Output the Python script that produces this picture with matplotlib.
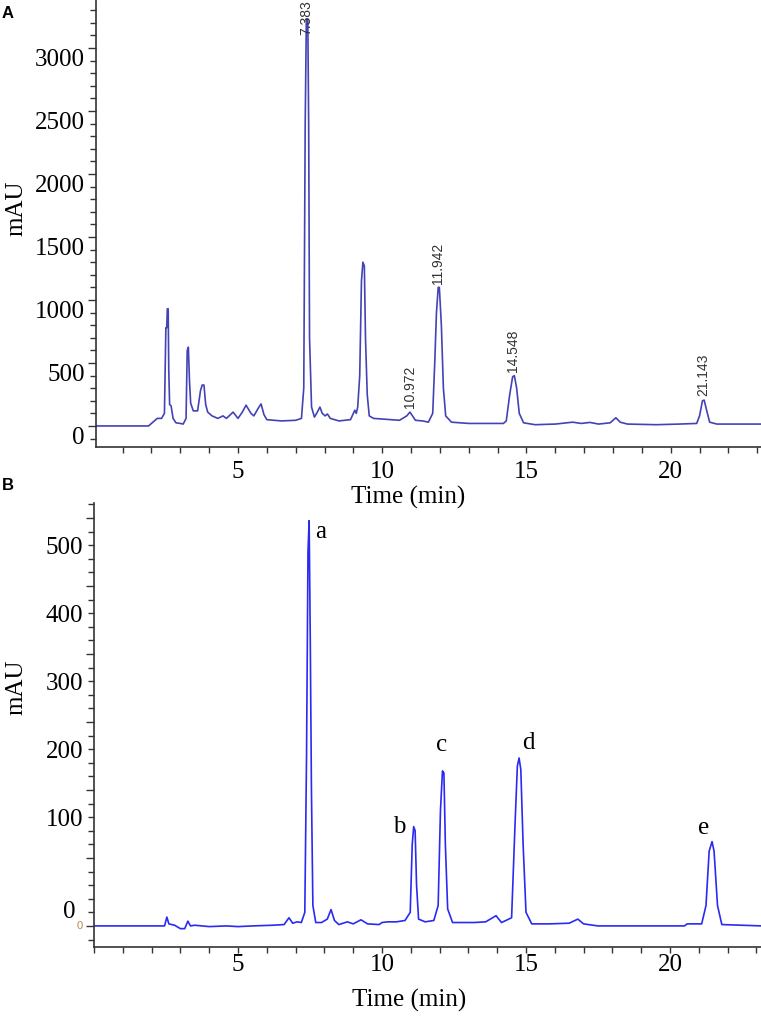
import numpy as np
import matplotlib
matplotlib.use("Agg")
import matplotlib.pyplot as plt
from matplotlib.ticker import MultipleLocator, NullFormatter, FixedLocator
from matplotlib.transforms import ScaledTranslation

# ---------------- data ----------------
# Panel A chromatogram trace: time (min), signal (mAU)
A_time = [0.05, 1.90, 2.05, 2.20, 2.35, 2.45, 2.50, 2.53, 2.55, 2.58, 2.60, 2.63, 2.68, 2.75,
          2.85, 3.00, 3.10, 3.20, 3.24, 3.28, 3.32, 3.36, 3.45, 3.60, 3.70, 3.76, 3.82, 3.88,
          3.95, 4.10, 4.30, 4.48, 4.60, 4.83, 5.00, 5.15, 5.28, 5.45, 5.55, 5.70, 5.80, 5.90,
          6.00, 6.50, 7.00, 7.20, 7.28, 7.33, 7.37, 7.42, 7.45, 7.48, 7.55, 7.65, 7.75, 7.84,
          7.92, 8.02, 8.10, 8.20, 8.50, 8.90, 9.05, 9.10, 9.15, 9.22, 9.28, 9.33, 9.38, 9.42,
          9.48, 9.55, 9.70, 10.00, 10.30, 10.60, 10.85, 10.96, 11.05, 11.15, 11.40, 11.60,
          11.75, 11.82, 11.88, 11.94, 11.98, 12.05, 12.12, 12.20, 12.40, 13.00, 14.20, 14.30,
          14.42, 14.52, 14.58, 14.66, 14.75, 14.90, 15.30, 16.00, 16.60, 16.90, 17.20, 17.50,
          17.90, 18.10, 18.25, 18.50, 19.50, 20.30, 20.90, 21.00, 21.10, 21.16, 21.25, 21.35,
          21.60, 23.20]
A_mau = [0, 0, 30, 60, 60, 100, 780, 780, 930, 930, 450, 170, 160, 60,
         25, 20, 15, 60, 600, 625, 350, 180, 120, 120, 280, 325, 325, 170,
         110, 80, 60, 80, 60, 110, 60, 110, 165, 100, 80, 140, 175, 90,
         50, 40, 45, 60, 300, 2400, 3230, 3230, 2400, 700, 150, 70, 110, 150,
         100, 80, 95, 60, 40, 50, 125, 100, 150, 400, 1150, 1300, 1270, 700,
         250, 80, 60, 55, 50, 45, 80, 110, 80, 45, 40, 30,
         100, 500, 900, 1100, 1100, 800, 300, 80, 30, 20, 20, 40,
         250, 390, 400, 300, 100, 25, 10, 15, 30, 20, 28, 15,
         25, 65, 30, 15, 10, 15, 20, 80, 200, 205, 120, 30,
         15, 15]
A_peak_times = [7.383, 10.972, 11.942, 14.548, 21.143]
A_peak_labels = ["7.383", "10.972", "11.942", "14.548", "21.143"]

# Panel B chromatogram trace
B_time = [0.00, 2.45, 2.53, 2.60, 2.80, 3.00, 3.15, 3.26, 3.35, 3.50, 4.00, 4.60, 5.00, 5.50,
          6.20, 6.60, 6.77, 6.90, 7.05, 7.20, 7.32, 7.38, 7.43, 7.47, 7.51, 7.55, 7.60, 7.70,
          7.90, 8.10, 8.23, 8.35, 8.50, 8.80, 9.00, 9.27, 9.50, 9.90, 10.00, 10.20, 10.50,
          10.80, 10.98, 11.05, 11.10, 11.15, 11.20, 11.27, 11.50, 11.80, 11.95, 12.03, 12.10,
          12.15, 12.20, 12.28, 12.45, 13.20, 13.60, 13.96, 14.15, 14.50, 14.62, 14.70, 14.76,
          14.82, 14.90, 15.00, 15.20, 15.80, 16.50, 16.80, 17.00, 17.50, 20.50, 20.60, 21.10,
          21.25, 21.36, 21.46, 21.53, 21.65, 21.80, 23.20]
B_mau = [0, 0, 13, 3, 1, -4, -4, 7, 0, 1, -1, 0, -1, 0,
         1, 2, 12, 4, 6, 5, 20, 250, 550, 596, 420, 200, 30, 5,
         5, 10, 24, 8, 2, 6, 3, 9, 3, 2, 5, 6, 6,
         8, 20, 120, 146, 140, 60, 10, 6, 8, 30, 170, 228,
         225, 120, 25, 5, 5, 6, 15, 5, 12, 150, 235, 247,
         230, 120, 20, 3, 3, 4, 10, 3, 0, 0, 3, 3,
         30, 110, 124, 110, 30, 2, 0]
B_peak_times = [7.47, 11.10, 12.10, 14.76, 21.46]
B_peak_labels = ["a", "b", "c", "d", "e"]

A_yticks = [0, 500, 1000, 1500, 2000, 2500, 3000]
B_yticks = [0, 100, 200, 300, 400, 500]
x_ticks = [5, 10, 15, 20]

# ---------------- style ----------------
W, H = 761, 1016
fig = plt.figure(figsize=(W / 100, H / 100), dpi=100, facecolor="white")
serif = "Liberation Serif"
sans = "Liberation Sans"
spine_col = "#333333"
colA = "#4343b5"
colB = "#2a2af2"


def px(v):
    return v / 100.0  # pixels -> inches


def style_axes(ax):
    ax.patch.set_visible(False)
    for s in ["top", "right"]:
        ax.spines[s].set_visible(False)
    for s in ["left", "bottom"]:
        ax.spines[s].set_color(spine_col)
        ax.spines[s].set_linewidth(1.2)
    ax.xaxis.set_major_locator(FixedLocator(x_ticks))
    ax.xaxis.set_minor_locator(MultipleLocator(1))
    ax.tick_params(axis="x", which="both", direction="out", length=4, width=1.0,
                   colors=spine_col, labelcolor="black", labelsize=18)
    ax.tick_params(axis="y", which="both", direction="out", width=1.0,
                   colors=spine_col)
    ax.tick_params(axis="y", which="major", length=6)
    ax.tick_params(axis="y", which="minor", length=4)
    ax.yaxis.set_major_formatter(NullFormatter())
    for lab in ax.get_xticklabels():
        lab.set_fontfamily(serif)


# ---------------- Panel A ----------------
axA = fig.add_axes([96 / W, 569 / H, 665 / W, 447 / H])
axA.plot(A_time, A_mau, color=colA, lw=1.2, clip_on=True)
axA.set_xlim(0.078, 23.13)
axA.set_ylim(-167, 3381)
style_axes(axA)
axA.yaxis.set_major_locator(FixedLocator(A_yticks))
axA.yaxis.set_minor_locator(MultipleLocator(100))
axA.tick_params(axis="x", pad=6)
offA = ScaledTranslation(px(-11), px(-12), fig.dpi_scale_trans)
for v in A_yticks:
    axA.text(0, v, str(v), transform=axA.get_yaxis_transform() + offA,
             ha="right", va="center", fontsize=18, family=serif)
axA.set_xlabel("Time (min)", fontsize=18, family=serif, va="center")
axA.xaxis.set_label_coords(0.469, (447 - 497) / 447)
axA.set_ylabel("mAU", fontsize=18, family=serif, va="center")
axA.yaxis.set_label_coords((16 - 96) / 665, (447 - 208) / 447)

A_label_dy = [-16, 4, 3, 4, 4]  # pixels above apex
At = np.array(A_time)
Am = np.array(A_mau)
for t, txt, dy in zip(A_peak_times, A_peak_labels, A_label_dy):
    top = Am[(At > t - 0.12) & (At < t + 0.12)].max()
    axA.annotate(txt, xy=(t, top), xytext=(0, dy * 0.72), textcoords="offset points",
                 rotation=90, ha="center", va="bottom", fontsize=10, family=sans,
                 color="#333333", annotation_clip=False)

fig.text(8 / W, 1 - 13 / H, "A", fontsize=12, fontweight="bold", family=sans,
         ha="center", va="center")

# ---------------- Panel B ----------------
axB = fig.add_axes([94 / W, 69 / H, 667 / W, 444 / H])
axB.plot(B_time, B_mau, color=colB, lw=1.2)
axB.set_xlim(0.0, 23.16)
axB.set_ylim(-31, 622)
style_axes(axB)
axB.yaxis.set_major_locator(MultipleLocator(100))
axB.yaxis.set_minor_locator(MultipleLocator(20))
axB.tick_params(axis="x", pad=1)
B_label_dy = [14, 38, 38, 38, 38, 38]  # label drift (pixels upwards) in source figure
B_label_dx = [-19, -11, -11, -11, -11, -11]
for v, dy, dx in zip(B_yticks, B_label_dy, B_label_dx):
    off = ScaledTranslation(px(dx), px(dy), fig.dpi_scale_trans)
    axB.text(0, v, str(v), transform=axB.get_yaxis_transform() + off,
             ha="right", va="center", fontsize=18, family=serif)
# small stray zero label near the baseline
axB.text(0, 0, "0", transform=axB.get_yaxis_transform() +
         ScaledTranslation(px(-11), 0, fig.dpi_scale_trans),
         ha="right", va="center", fontsize=8, family=sans, color="#b8894a")
axB.set_xlabel("Time (min)", fontsize=18, family=serif, va="center")
axB.xaxis.set_label_coords(0.472, (947 - 1000) / 444)
axB.set_ylabel("mAU", fontsize=18, family=serif, va="center")
axB.yaxis.set_label_coords((16 - 94) / 667, (947 - 687) / 444)

B_label_off = [(11, -11), (-14, 0), (-1, 26), (9, 15), (-8, 14)]  # pixels
Bt = np.array(B_time)
Bm = np.array(B_mau)
for t, txt, (dx, dy) in zip(B_peak_times, B_peak_labels, B_label_off):
    top = Bm[(Bt > t - 0.12) & (Bt < t + 0.12)].max()
    axB.annotate(txt, xy=(t, top), xytext=(dx * 0.72, dy * 0.72), textcoords="offset points",
                 ha="center", va="center", fontsize=18, family=serif, color="black")

fig.text(8 / W, 1 - 485 / H, "B", fontsize=12, fontweight="bold", family=sans,
         ha="center", va="center")

fig.savefig("out.png", dpi=100, facecolor="white")
